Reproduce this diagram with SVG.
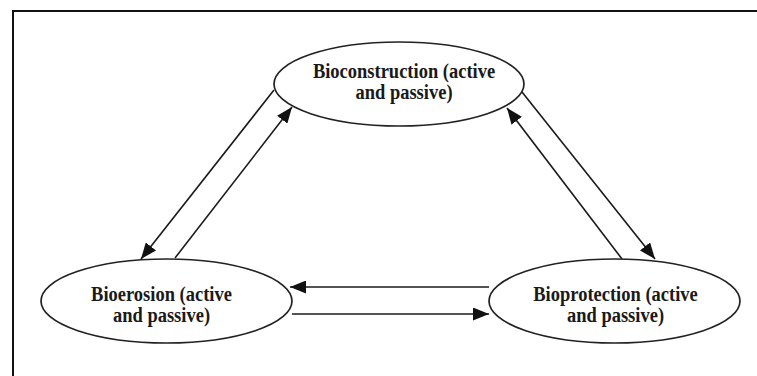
<svg xmlns="http://www.w3.org/2000/svg" width="757" height="376" viewBox="0 0 757 376">
  <style>
    .frame { fill: none; stroke: #111; stroke-width: 2; }
    .node ellipse { fill: #fff; stroke: #222; stroke-width: 1.7; }
    .node text { font-family: "Liberation Serif", "Times New Roman", serif; font-weight: bold; font-size: 20px; fill: #1a1a1a; text-anchor: middle; }
    .links line { stroke: #1a1a1a; stroke-width: 1.6; marker-end: url(#head); }
  </style>
  <defs>
    <marker id="head" markerUnits="userSpaceOnUse" markerWidth="17" markerHeight="13" refX="16" refY="6.5" orient="auto">
      <path d="M0,0 L16,6.5 L0,13 Z" fill="#111"/>
    </marker>
  </defs>

  <rect width="757" height="376" fill="#fff"/>
  <!-- outer frame, open to the right and bottom -->
  <path class="frame" d="M13,376 V11 H757"/>

  <g class="links">
    <!-- Bioconstruction <-> Bioerosion -->
    <line x1="274" y1="90" x2="141" y2="259"/>
    <line x1="175" y1="258" x2="292" y2="107"/>
    <!-- Bioconstruction <-> Bioprotection -->
    <line x1="522" y1="92" x2="655" y2="259"/>
    <line x1="622" y1="259" x2="507" y2="108"/>
    <!-- Bioerosion <-> Bioprotection -->
    <line x1="489" y1="287" x2="290" y2="287"/>
    <line x1="292" y1="314" x2="489" y2="314"/>
  </g>

  <g id="bioconstruction" class="node">
    <ellipse cx="399" cy="84" rx="125" ry="42"/>
    <g transform="translate(404 0) scale(0.925 1)">
      <text x="0" y="78">Bioconstruction (active</text>
      <text x="0" y="99">and passive)</text>
    </g>
  </g>

  <g id="bioerosion" class="node">
    <ellipse cx="166.5" cy="301" rx="125.5" ry="42"/>
    <g transform="translate(161.5 0) scale(0.925 1)">
      <text x="0" y="301">Bioerosion (active</text>
      <text x="0" y="322">and passive)</text>
    </g>
  </g>

  <g id="bioprotection" class="node">
    <ellipse cx="614.5" cy="301" rx="125.5" ry="42"/>
    <g transform="translate(615.5 0) scale(0.925 1)">
      <text x="0" y="301.5">Bioprotection (active</text>
      <text x="0" y="322">and passive)</text>
    </g>
  </g>
</svg>
